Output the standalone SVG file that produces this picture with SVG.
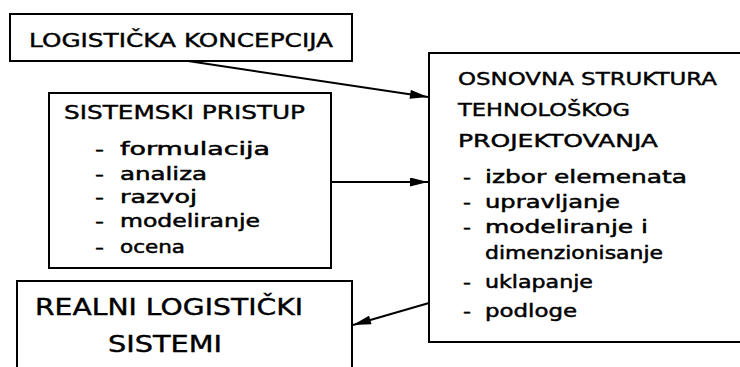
<svg xmlns="http://www.w3.org/2000/svg" width="740" height="367" viewBox="0 0 740 367">
<defs>
<style>
.box{fill:#fff;stroke:#000;stroke-width:2}
.t{font-family:"DejaVu Sans","Liberation Sans",sans-serif;fill:#000;stroke:#000;stroke-width:0.4}
.cap{font-size:19px}
.big{font-size:23px}
.mid{font-size:17px}
.it{font-size:18px;stroke-width:0.5}
</style>
<marker id="ah2" viewBox="0 0 20 10" refX="20" refY="5" markerWidth="20" markerHeight="9" markerUnits="userSpaceOnUse" orient="auto">
<path d="M0,0 L20,5 L0,10 Z" fill="#000"/>
</marker>
</defs>
<rect width="740" height="367" fill="#fff"/>
<g id="koncepcija">
<rect class="box" x="10" y="14" width="342" height="47"/>
<text class="t cap" x="29" y="47" textLength="304" lengthAdjust="spacingAndGlyphs">LOGISTIČKA KONCEPCIJA</text>
</g>
<g id="pristup">
<rect class="box" x="49" y="93" width="282" height="175"/>
<text class="t cap" x="64" y="119" textLength="241" lengthAdjust="spacingAndGlyphs">SISTEMSKI PRISTUP</text>
<text class="t it" y="155"><tspan x="95" textLength="9" lengthAdjust="spacingAndGlyphs">-</tspan><tspan x="120" textLength="150" lengthAdjust="spacingAndGlyphs">formulacija</tspan></text>
<text class="t it" y="180"><tspan x="95" textLength="9" lengthAdjust="spacingAndGlyphs">-</tspan><tspan x="120" textLength="87" lengthAdjust="spacingAndGlyphs">analiza</tspan></text>
<text class="t it" y="203"><tspan x="95" textLength="9" lengthAdjust="spacingAndGlyphs">-</tspan><tspan x="120" textLength="77" lengthAdjust="spacingAndGlyphs">razvoj</tspan></text>
<text class="t it" y="227"><tspan x="95" textLength="9" lengthAdjust="spacingAndGlyphs">-</tspan><tspan x="120" textLength="140" lengthAdjust="spacingAndGlyphs">modeliranje</tspan></text>
<text class="t it" y="253"><tspan x="95" textLength="9" lengthAdjust="spacingAndGlyphs">-</tspan><tspan x="120" textLength="65" lengthAdjust="spacingAndGlyphs">ocena</tspan></text>
</g>
<g id="realni">
<rect class="box" x="17" y="281" width="335" height="100"/>
<text class="t big" x="35" y="315" textLength="268" lengthAdjust="spacingAndGlyphs">REALNI LOGISTIČKI</text>
<text class="t big" x="108" y="352" textLength="114" lengthAdjust="spacingAndGlyphs">SISTEMI</text>
</g>
<g id="struktura">
<rect class="box" x="429" y="53" width="330" height="289"/>
<text class="t mid" x="458" y="85" textLength="259" lengthAdjust="spacingAndGlyphs">OSNOVNA STRUKTURA</text>
<text class="t mid" x="458" y="116" textLength="172" lengthAdjust="spacingAndGlyphs">TEHNOLOŠKOG</text>
<text class="t mid" x="458" y="147" textLength="200" lengthAdjust="spacingAndGlyphs">PROJEKTOVANJA</text>
<text class="t it" y="183"><tspan x="463" textLength="8" lengthAdjust="spacingAndGlyphs">-</tspan><tspan x="485" textLength="202" lengthAdjust="spacingAndGlyphs">izbor elemenata</tspan></text>
<text class="t it" y="208"><tspan x="463" textLength="8" lengthAdjust="spacingAndGlyphs">-</tspan><tspan x="485" textLength="135" lengthAdjust="spacingAndGlyphs">upravljanje</tspan></text>
<text class="t it" y="233"><tspan x="463" textLength="8" lengthAdjust="spacingAndGlyphs">-</tspan><tspan x="485" textLength="163" lengthAdjust="spacingAndGlyphs">modeliranje i</tspan></text>
<text class="t it" y="259"><tspan x="485" textLength="178" lengthAdjust="spacingAndGlyphs">dimenzionisanje</tspan></text>
<text class="t it" y="288"><tspan x="463" textLength="8" lengthAdjust="spacingAndGlyphs">-</tspan><tspan x="485" textLength="108" lengthAdjust="spacingAndGlyphs">uklapanje</tspan></text>
<text class="t it" y="317"><tspan x="463" textLength="8" lengthAdjust="spacingAndGlyphs">-</tspan><tspan x="485" textLength="92" lengthAdjust="spacingAndGlyphs">podloge</tspan></text>
</g>
<g id="connectors">
<path d="M188,61 L428,97" stroke="#000" stroke-width="2" fill="none" marker-end="url(#ah2)"/>
<path d="M331,182 L428,182" stroke="#000" stroke-width="2" fill="none" marker-end="url(#ah2)"/>
<path d="M429,303 L353,325" stroke="#000" stroke-width="2" fill="none" marker-end="url(#ah2)"/>
</g>
</svg>
